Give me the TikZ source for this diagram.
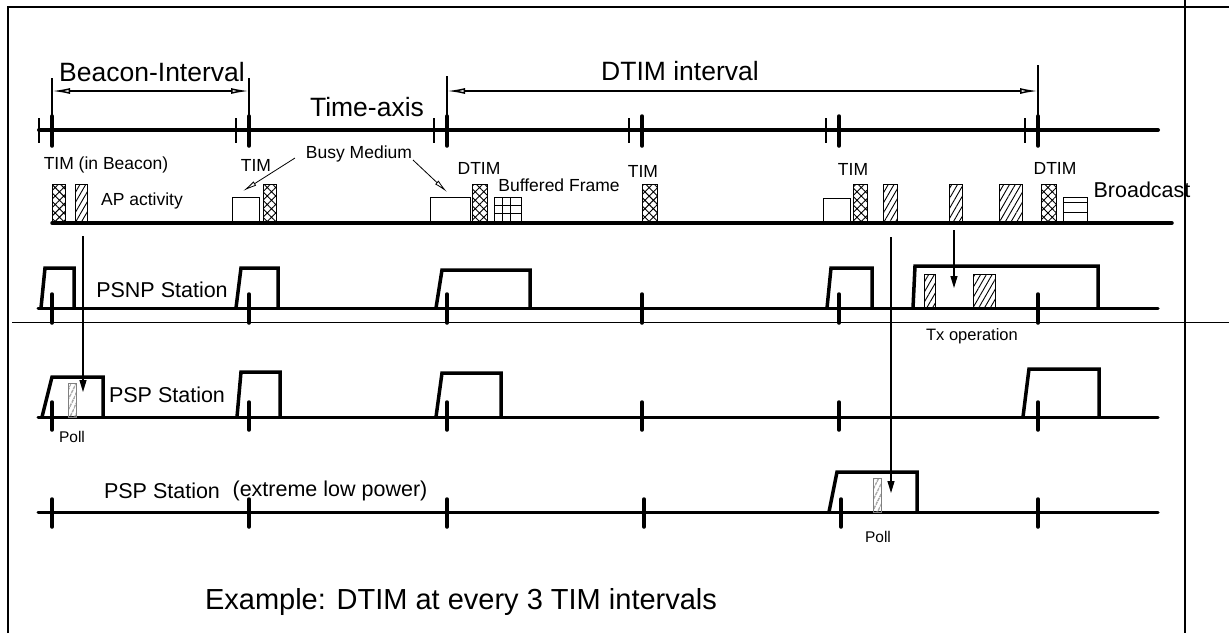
\documentclass[tikz,border=0pt]{standalone}
\usepackage{fontspec}
\setmainfont{Liberation Sans}
\usetikzlibrary{arrows.meta,patterns.meta}
\begin{document}
\begin{tikzpicture}[x=1pt,y=-1pt,
  lbl/.style={inner sep=0pt, font=\fontsize{17.5}{17.5}\selectfont},
  small/.style={inner sep=0pt, font=\fontsize{15.5}{15.5}\selectfont},
  big/.style={inner sep=0pt, font=\fontsize{26.5}{26.5}\selectfont},
  mid/.style={inner sep=0pt, font=\fontsize{21.5}{21.5}\selectfont},
  huge/.style={inner sep=0pt, font=\fontsize{29}{29}\selectfont},
  axisline/.style={line width=4pt, line cap=round},
  sline/.style={line width=3pt, line cap=round},
  awake/.style={line width=3.5pt, line join=miter},
  tck/.style={line width=3.5pt, line cap=round},
  thintck/.style={line width=1.5pt},
  xhatch/.style={draw, line width=0.8pt, pattern={Hatch[angle=45,distance=6pt,line width=0.9pt]}},
  dhatch/.style={draw, line width=0.8pt, pattern={Lines[angle=60,distance=5pt,line width=0.9pt]}},
  ghatch/.style={draw=gray, line width=0.6pt, pattern={Lines[angle=65,distance=4pt,line width=1.2pt]}, pattern color=gray},
  ebox/.style={draw, line width=0.8pt},
  dimarrow/.style={line width=1.5pt, {Latex[open,length=18pt,width=6pt]}-{Latex[open,length=18pt,width=6pt]}},
  busyarrow/.style={line width=0.8pt, -{Latex[open,length=14pt,width=5pt]}},
  downarrow/.style={line width=1.2pt, -{Triangle[length=12pt,width=7pt]}},
]
\useasboundingbox (0,0) rectangle (1229,633);
\fill[white] (0,0) rectangle (1229,633);

% frame
\draw[line width=1.8pt] (8,633) -- (8,7) -- (1229,7);
\draw[line width=1.5pt] (1185,0) -- (1185,633);
\draw[line width=1pt] (12,322) -- (1229,322);

% time axis
\draw[axisline] (39,130) -- (1158,130);
\foreach \x in {52,249,447,642,839,1038}{
  \draw[tck] (\x,116) -- (\x,146);
  \draw[thintck] (\x-13,118) -- (\x-13,143);
}
\coordinate (b1) at (52,91); \coordinate (b2) at (249,91);
\coordinate (d1) at (447,91); \coordinate (d2) at (1038,91);
\draw[line width=1.5pt] (52,78) -- (52,130) (249,78) -- (249,130)
  (447,76) -- (447,130) (1038,65) -- (1038,130);
\draw[dimarrow] (b1) -- (b2);
\draw[dimarrow] (d1) -- (d2);
\node[big] (beacon) at (152,72) {Beacon-Interval};
\node[big] (taxis) at (367,107) {Time-axis};
\node[big] (dtimint) at (680,71) {DTIM interval};

% AP activity
\node[lbl] (timb) at (106,165) {TIM (in Beacon)};
\node[lbl] (tim1) at (256,165) {TIM};
\node[lbl] (busy) at (359,154) {Busy Medium};
\node[lbl] (apact) at (142,201) {AP activity};
\node[lbl] (dtim1) at (479,168) {DTIM};
\node[lbl] (buff) at (559,185) {Buffered Frame};
\node[lbl] (tim2) at (643,171) {TIM};
\node[lbl] (tim3) at (853,169) {TIM};
\node[lbl] (dtim2) at (1055,168) {DTIM};
\node[mid] (bcast) at (1142,190) {Broadcast};

\draw[xhatch] (52,184) rectangle (65,223);
\draw[xhatch] (263,184) rectangle (276,223);
\draw[xhatch] (472,184) rectangle (487,223);
\draw[xhatch] (642,184) rectangle (657,223);
\draw[xhatch] (853,184) rectangle (867,223);
\draw[xhatch] (1041,184) rectangle (1056,223);
\draw[dhatch] (75,184) rectangle (87,223);
\draw[dhatch] (883,184) rectangle (897,223);
\draw[dhatch] (949,184) rectangle (962,223);
\draw[dhatch] (999,184) rectangle (1022,223);
\draw[ebox] (232,197) rectangle (259,223);
\draw[ebox] (430,197) rectangle (470,223);
\draw[ebox] (823,198) rectangle (850,223);
\draw[ebox] (494,197) rectangle (521,223);
\draw[line width=0.8pt] (502,197) -- (502,223) (510,197) -- (510,223)
  (494,205) -- (521,205) (494,213) -- (521,213);
\draw[ebox] (1063,197) rectangle (1087,223);
\draw[line width=0.8pt] (1063,202) -- (1087,202) (1063,212) -- (1087,212);
\draw[sline, line width=3.5pt] (52,223) -- (1172,223);

\coordinate (bm1) at (295,158); \coordinate (bm1t) at (243,191);
\coordinate (bm2) at (413,160); \coordinate (bm2t) at (447,192);
\draw[busyarrow] (bm1) -- (bm1t);
\draw[busyarrow] (bm2) -- (bm2t);

% PSNP station
\node[mid] (psnp) at (162,290) {PSNP Station};
\draw[sline] (38,308) -- (1158,308);
\foreach \x in {52,249,447,642,839,1038}{
  \draw[tck] (\x,294) -- (\x,323);
}
\draw[awake] (41,308) -- (45,268) -- (74,268) -- (74,308);
\draw[awake] (236,308) -- (241,268) -- (278,268) -- (278,308);
\draw[awake] (436,308) -- (442,270) -- (530,270) -- (530,308);
\draw[awake] (827,308) -- (831,268) -- (872,268) -- (872,308);
\draw[awake] (913,308) -- (915,266) -- (1098,266) -- (1098,308);
\draw[dhatch] (924,274) rectangle (935,308);
\draw[dhatch] (973,274) rectangle (995,308);
\node[lbl, font=\fontsize{16.5}{16.5}\selectfont] (tx) at (972,336) {Tx operation};

% PSP station
\node[mid] (psp) at (167,395) {PSP Station};
\draw[sline] (38,417) -- (1158,417);
\foreach \x in {52,249,447,642,839,1038}{
  \draw[tck] (\x,402) -- (\x,430);
}
\draw[awake] (42,417) -- (52,377) -- (103,377) -- (103,417);
\draw[awake] (237,417) -- (241,372) -- (280,372) -- (280,417);
\draw[awake] (436,417) -- (442,373) -- (501,373) -- (501,417);
\draw[awake] (1023,417) -- (1029,369) -- (1099,369) -- (1099,417);
\draw[ghatch] (68,383) rectangle (76,417);
\node[small] (poll1) at (72,437) {Poll};

% PSP station (extreme low power)
\node[mid] (psp2) at (162,491) {PSP Station};
\node[mid] (elp) at (330,491) {(extreme low power)};
\draw[sline] (38,512) -- (1158,512);
\foreach \x in {52,249,447,644,841,1038}{
  \draw[tck] (\x,499) -- (\x,527);
}
\draw[awake] (829,512) -- (837,472) -- (917,472) -- (917,512);
\draw[ghatch] (873,478) rectangle (881,512);
\node[small] (poll2) at (878,537) {Poll};

% vertical arrows
\coordinate (a1s) at (83,236); \coordinate (a1e) at (83,392);
\coordinate (a2s) at (954,230); \coordinate (a2e) at (954,288);
\coordinate (a3s) at (891,237); \coordinate (a3e) at (891,493);
\draw[downarrow] (a1s) -- (a1e);
\draw[downarrow] (a2s) -- (a2e);
\draw[downarrow] (a3s) -- (a3e);

\node[huge] (example) at (461,602) {Example: DTIM at every 3 TIM intervals};
\end{tikzpicture}
\end{document}
